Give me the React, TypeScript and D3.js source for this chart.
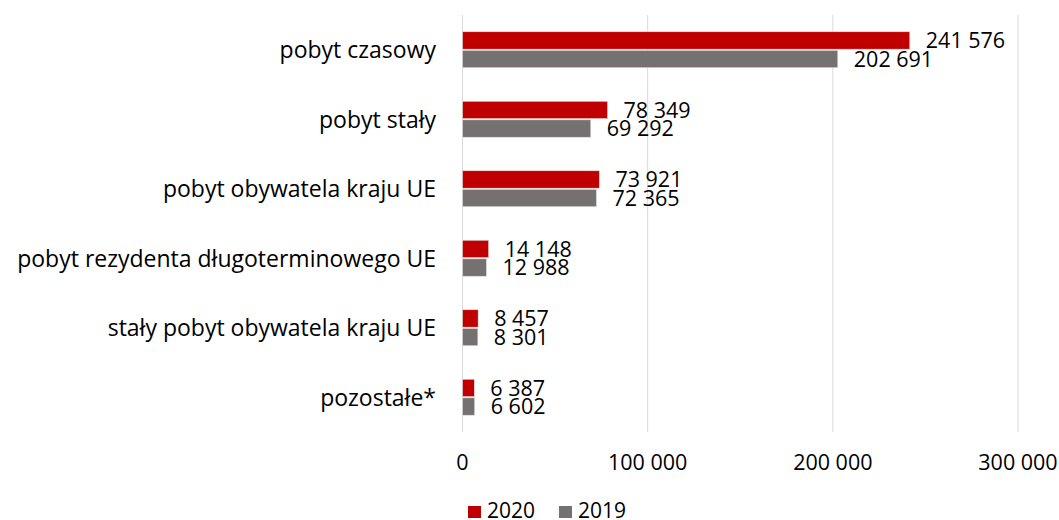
import React, { useRef, useEffect } from 'react'
import * as d3 from 'd3'

const categories = [
  'pobyt czasowy',
  'pobyt stały',
  'pobyt obywatela kraju UE',
  'pobyt rezydenta długoterminowego UE',
  'stały pobyt obywatela kraju UE',
  'pozostałe*',
]
const values2020 = [241576, 78349, 73921, 14148, 8457, 6387]
const values2019 = [202691, 69292, 72365, 12988, 8301, 6602]
const xTicks = [0, 100000, 200000, 300000]
const seriesNames = ['2020', '2019']
const seriesColors = ['#C00000', '#767171']

const W = 1059
const H = 520
const FONT = '"Open Sans", sans-serif'

const fmt = (v: number) => d3.format(',')(v).replace(/,/g, ' ')

export default function App() {
  const svgRef = useRef<SVGSVGElement>(null)

  useEffect(() => {
    if (!svgRef.current) return
    const svg = d3.select(svgRef.current)
    svg.selectAll('*').remove()

    const x = d3.scaleLinear().domain([0, 300000]).range([462.5, 1018])
    const y = d3.scaleBand().domain(categories).range([15, 432])
    const sub = d3.scaleBand().domain(seriesNames).range([0, 36]).paddingInner(0.06)

    const g = svg.append('g')

    // gridlines
    g.selectAll('line.grid')
      .data(xTicks)
      .join('line')
      .attr('x1', (d) => x(d))
      .attr('x2', (d) => x(d))
      .attr('y1', 15)
      .attr('y2', 432)
      .attr('stroke', '#d9d9d9')
      .attr('stroke-width', 1)

    // tick labels
    g.selectAll('text.tick')
      .data(xTicks)
      .join('text')
      .attr('x', (d) => x(d))
      .attr('y', 462)
      .attr('dy', '0.36em')
      .attr('text-anchor', 'middle')
      .attr('font-family', FONT)
      .attr('font-size', 21.5)
      .attr('fill', '#000')
      .text((d) => fmt(d))

    // category labels
    g.selectAll('text.cat')
      .data(categories)
      .join('text')
      .attr('x', 436)
      .attr('y', (d) => y(d)! + y.bandwidth() / 2)
      .attr('dy', '0.36em')
      .attr('text-anchor', 'end')
      .attr('font-family', FONT)
      .attr('font-size', 23)
      .attr('fill', '#000')
      .text((d) => d)

    const series = [values2020, values2019]
    series.forEach((vals, si) => {
      const name = seriesNames[si]
      const rows = categories.map((c, i) => ({ c, v: vals[i] }))
      const top = (c: string) => y(c)! + y.bandwidth() / 2 - 18 + sub(name)!
      g.selectAll(`rect.s${si}`)
        .data(rows)
        .join('rect')
        .attr('x', x(0))
        .attr('y', (d) => top(d.c))
        .attr('width', (d) => x(d.v) - x(0))
        .attr('height', sub.bandwidth())
        .attr('fill', seriesColors[si])
        .attr('stroke', '#e6e6e6')
        .attr('stroke-width', 0.6)

      g.selectAll(`text.s${si}`)
        .data(rows)
        .join('text')
        .attr('x', (d) => x(d.v) + 16)
        .attr('y', (d) => top(d.c) + sub.bandwidth() / 2)
        .attr('dy', '0.36em')
        .attr('font-family', FONT)
        .attr('font-size', 21.5)
        .attr('fill', '#000')
        .text((d) => fmt(d.v))
    })

    // legend
    const legendX = [468, 559]
    seriesNames.forEach((n, i) => {
      g.append('rect')
        .attr('x', legendX[i])
        .attr('y', 506)
        .attr('width', 13)
        .attr('height', 12)
        .attr('fill', seriesColors[i])
      g.append('text')
        .attr('x', legendX[i] + 19)
        .attr('y', 510)
        .attr('dy', '0.36em')
        .attr('font-family', FONT)
        .attr('font-size', 21)
        .attr('fill', '#000')
        .text(n)
    })
  }, [])

  return (
    <svg
      ref={svgRef}
      width={W}
      height={H}
      style={{ position: 'absolute', left: 0, top: 0, background: '#fff' }}
    />
  )
}
